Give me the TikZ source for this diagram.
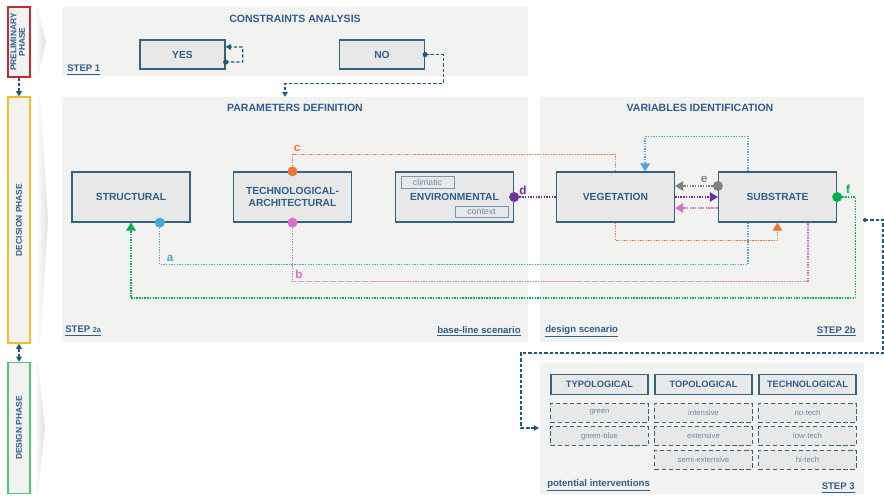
\documentclass[tikz,border=0pt]{standalone}
\usepackage{fontspec}
\setmainfont{Liberation Sans}
\usetikzlibrary{arrows.meta}

\definecolor{panelgray}{RGB}{242,242,241}
\definecolor{boxgray}{RGB}{232,232,232}
\definecolor{boxline}{RGB}{50,100,130}
\definecolor{titleblue}{RGB}{47,94,143}
\definecolor{flowblue}{RGB}{31,90,120}
\definecolor{chevgray}{RGB}{225,225,225}
\definecolor{tagline}{RGB}{120,150,178}
\definecolor{tagtext}{RGB}{105,138,170}
\definecolor{prelred}{RGB}{200,40,50}
\definecolor{decyellow}{RGB}{245,190,40}
\definecolor{desgreen}{RGB}{80,200,120}
\definecolor{ablue}{RGB}{77,166,217}
\definecolor{bpink}{RGB}{214,112,201}
\definecolor{corange}{RGB}{237,117,57}
\definecolor{dpurple}{RGB}{112,48,160}
\definecolor{egray}{RGB}{128,128,128}
\definecolor{fgreen}{RGB}{0,176,80}

\tikzset{
  phase/.style = {fill = panelgray, line width = 0.8pt, minimum width = 0.55cm, inner sep = 0pt, text = titleblue, font = \bfseries\fontsize{6}{6.6}\selectfont},
  title/.style = {text = titleblue, font = \bfseries\fontsize{7.5}{9}\selectfont},
  steplabel/.style = {text = titleblue, font = \bfseries\fontsize{6.8}{8}\selectfont, inner sep = 0pt},
  box/.style = {draw = boxline, fill = boxgray, line width = 0.9pt, text = titleblue, font = \bfseries\fontsize{7.3}{8.8}\selectfont, align = center, minimum width = 2.95cm, minimum height = 1.25cm, inner sep = 0pt},
  smallbox/.style = {box, minimum width = 2.125cm, minimum height = 0.725cm},
  tag/.style = {draw = tagline, fill = boxgray, line width = 0.6pt, text = tagtext, font = \fontsize{6.2}{7}\selectfont, minimum width = 1.325cm, minimum height = 0.28cm, inner sep = 0pt},
  head/.style = {draw = boxline, fill = boxgray, line width = 1pt, text = titleblue, font = \bfseries\fontsize{6.6}{8}\selectfont, minimum width = 2.425cm, minimum height = 0.5cm, inner sep = 0pt},
  option/.style = {draw = boxline, fill = boxgray, line width = 0.7pt, dash pattern = on 3pt off 2pt, text = tagtext, font = \fontsize{5.5}{6.5}\selectfont, minimum width = 2.425cm, minimum height = 0.475cm, inner sep = 0pt},
  flow/.style = {draw = flowblue, line width = 0.9pt, dash pattern = on 2.4pt off 1.4pt},
  link/.style = {line width = 0.9pt, dash pattern = on 1pt off 0.9pt},
  tip/.style = {-{Triangle[length = 2mm, width = 2.4mm]}},
  smalltip/.style = {-{Triangle[length = 1.3mm, width = 1.4mm]}},
  dot/.style = {circle, inner sep = 0pt, minimum size = 2.5mm},
  sdot/.style = {circle, fill = flowblue, inner sep = 0pt, minimum size = 1.3mm},
  letter/.style = {font = \bfseries\fontsize{8.3}{10}\selectfont, inner sep = 0pt}
}

\begin{document}
\begin{tikzpicture}[x = 0.025cm, y = -0.025cm]
\useasboundingbox (0,0) rectangle (884,495);

% phases
\shade[left color = white, right color = chevgray] (34,8) -- (38,8) -- (46,42) -- (38,76) -- (34,76) -- cycle;
\shade[left color = white, right color = chevgray] (36,97) -- (40,97) -- (48,220) -- (40,343) -- (36,343) -- cycle;
\shade[left color = white, right color = chevgray] (34,362) -- (38,362) -- (45,428) -- (38,494) -- (34,494) -- cycle;

\node[phase, draw = prelred, minimum height = 1.75cm] (prel) at (19,42) {\rotatebox{90}{\renewcommand{\arraystretch}{0.9}\begin{tabular}{@{}c@{}}PRELIMINARY\\PHASE\end{tabular}}};
\node[phase, draw = decyellow, minimum height = 6.15cm] (dec) at (19,220) {\rotatebox{90}{DECISION PHASE}};
\node[phase, draw = desgreen, minimum height = 3.28cm] (des) at (19,428) {\rotatebox{90}{DESIGN PHASE}};

\draw[flow, smalltip] (prel.south) -- (dec.north);
\draw[flow, {Triangle[length = 1.3mm, width = 1.4mm]}-{Triangle[length = 1.3mm, width = 1.4mm]}] (dec.south) -- (des.north);

% panels
\fill[panelgray] (62,7) rectangle (528,76);
\fill[panelgray] (62,97) rectangle (528,342);
\fill[panelgray] (540,97) rectangle (864,342);
\fill[panelgray] (540,363) rectangle (864,494);

\node[title] (tca) at (295,19) {CONSTRAINTS ANALYSIS};
\node[title] (tpd) at (295,108) {PARAMETERS DEFINITION};
\node[title] (tvi) at (700,108) {VARIABLES IDENTIFICATION};

\node[steplabel, anchor = west] (s1) at (67,70) {\underline{STEP 1}};
\node[steplabel, anchor = west] (s2a) at (65,331) {\underline{STEP {\fontsize{5.2}{6}\selectfont 2a}}};
\node[steplabel, anchor = east] (bls) at (521,331) {\underline{base-line scenario}};
\node[steplabel, anchor = west] (dsc) at (545,331) {\underline{design scenario}};
\node[steplabel, anchor = east] (s2b) at (856,331) {\underline{STEP 2b}};
\node[steplabel, anchor = west] (pin) at (547,485) {\underline{potential interventions}};
\node[steplabel, anchor = east] (s3) at (855,488) {\underline{STEP 3}};

% step 1
\node[smallbox] (yes) at (182.5,54.5) {YES};
\node[smallbox] (no) at (382,54.5) {NO};
\coordinate (pdtop) at (285,97);

\draw[flow, smalltip] ([yshift = -0.19cm]yes.east) -- ++(17,0) -- ++(0,-15) -- ([yshift = 0.19cm]yes.east);
\draw[flow, smalltip] (no.east) -- ++(18,0) -- ++(0,29) -| (pdtop);
\node[sdot] (yesdot) at ([yshift = -0.19cm]yes.east) {};
\node[sdot] (nodot) at (no.east) {};

% step 2a and 2b
\node[box] (str) at (131,197) {STRUCTURAL};
\node[box] (tec) at (292.5,197) {TECHNOLOGICAL-\\ARCHITECTURAL};
\node[box] (env) at (454.5,197) {ENVIRONMENTAL};
\node[tag] (cli) at (427.5,182.5) {climatic};
\node[tag] (con) at (481.5,212) {context};
\node[box] (veg) at (615.5,197) {VEGETATION};
\node[box] (sub) at (777.5,197) {SUBSTRATE};

\draw[link, ablue] ([xshift = 0.72cm]str.south) -- ++(0,42) -| ([xshift = -0.74cm]sub.south);
\draw[link, ablue, tip] ([xshift = -0.74cm]sub.north) -- ++(0,-35) -| ([xshift = 0.74cm]veg.north);
\draw[link, bpink] (tec.south) -- ++(0,59) -| ([xshift = 0.76cm]sub.south);
\draw[link, bpink, tip] ([yshift = -0.275cm]sub.west) -- ([yshift = -0.275cm]veg.east);
\draw[link, corange] (tec.north) -- ++(0,-17) -| (veg.north);
\draw[link, corange, tip] (veg.south) -- ++(0,18) -| (sub.south);
\draw[link, dpurple] (env.east) -- (veg.west);
\draw[link, dpurple, tip] (veg.east) -- (sub.west);
\draw[link, egray, tip] ([yshift = 0.275cm]sub.west) -- ([yshift = 0.275cm]veg.east);
\draw[link, fgreen, tip] (sub.east) -- ++(18,0) -- ++(0,101) -| (str.south);

\node[dot, fill = ablue] (adot) at ([xshift = 0.72cm]str.south) {};
\node[dot, fill = bpink] (bdot) at (tec.south) {};
\node[dot, fill = corange] (cdot) at (tec.north) {};
\node[dot, fill = dpurple] (ddot) at (env.east) {};
\node[dot, fill = egray] (edot) at ([yshift = 0.275cm]sub.west) {};
\node[dot, fill = fgreen] (fdot) at (sub.east) {};

\node[letter, text = ablue] (la) at (170,258) {a};
\node[letter, text = bpink] (lb) at (299,274) {b};
\node[letter, text = corange] (lc) at (297,148) {c};
\node[letter, text = dpurple] (ld) at (523,190) {d};
\node[letter, text = egray] (le) at (704,179) {e};
\node[letter, text = fgreen] (lf) at (848,189) {f};

% step 3
\coordinate (fout) at (865,220);
\coordinate (s3in) at (539,428);
\draw[flow, smalltip] (fout) -- ++(18,0) -- ++(0,133) -| (521,428) -- (s3in);
\node[sdot, minimum size = 1mm] (foutdot) at (fout) {};

\node[head] (typ) at (599.5,384.5) {TYPOLOGICAL};
\node[head] (top) at (703.5,384.5) {TOPOLOGICAL};
\node[head] (tch) at (807.5,384.5) {TECHNOLOGICAL};

\node[option] (gr) at (599.5,412.5) {green};
\node[option] (gb) at (599.5,436) {green-blue};
\node[option] (int) at (703.5,412.5) {intensive};
\node[option] (ext) at (703.5,436) {extensive};
\node[option] (sem) at (703.5,459.5) {semi-extensive};
\node[option] (not) at (807.5,412.5) {no-tech};
\node[option] (low) at (807.5,436) {low-tech};
\node[option] (hit) at (807.5,459.5) {hi-tech};

\end{tikzpicture}
\end{document}
